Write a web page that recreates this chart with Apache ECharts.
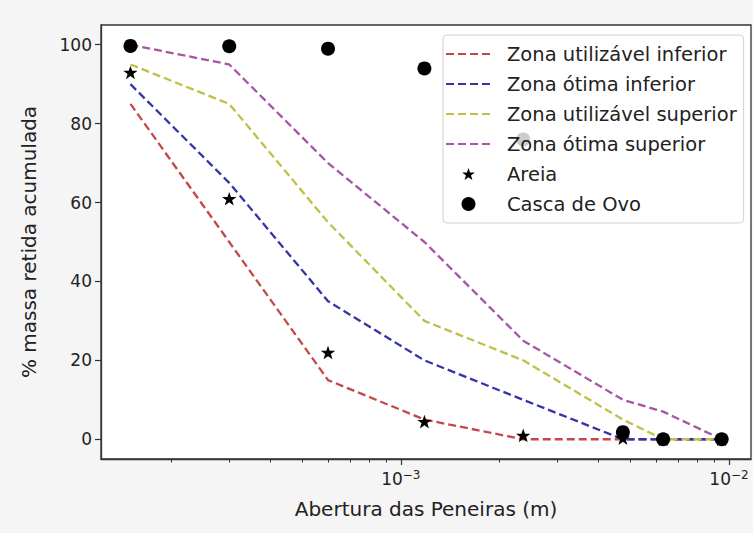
<!DOCTYPE html>
<html>
<head>
<meta charset="utf-8">
<script src="https://cdn.jsdelivr.net/npm/echarts@6/dist/echarts.min.js"></script>
<style>html,body{margin:0;padding:0;background:#f5f5f5}#c{width:753px;height:533px}</style>
</head>
<body>
<div id="c"></div>
<script>
// Sieve openings (m)
const aberturas = [1.5e-4, 3e-4, 6e-4, 1.18e-3, 2.36e-3, 4.75e-3, 6.3e-3, 9.5e-3];
const zonaUtilInf = [85, 50, 15, 5, 0, 0, 0, 0];
const zonaOtimaInf = [90, 65, 35, 20, 10, 0, 0, 0];
const zonaUtilSup = [95, 85, 55, 30, 20, 5, 0, 0];
const zonaOtimaSup = [100, 95, 70, 50, 25, 10, 7, 0];
const areia = [93, 61, 22, 4.5, 1, 0.3, 0, 0];
const cascaOvo = [99.7, 99.6, 99, 94, 76, 1.8, 0, 0];
const xMajorTicks = [1e-3, 1e-2];
const xMajorExp = {'0.001': '−3', '0.01': '−2'};
const xMinorTicks = [2e-4, 3e-4, 4e-4, 5e-4, 6e-4, 7e-4, 8e-4, 9e-4, 2e-3, 3e-3, 4e-3, 5e-3, 6e-3, 7e-3, 8e-3, 9e-3];
const yTicks = [0, 20, 40, 60, 80, 100];
const legendNames = ['Zona utilizável inferior', 'Zona ótima inferior', 'Zona utilizável superior', 'Zona ótima superior', 'Areia', 'Casca de Ovo'];

const pairs = (ys) => aberturas.map((x, i) => [x, ys[i]]);
const FONT = 'DejaVu Sans';
const starPath = 'path://M0,0 M100,100 M50,8 L61,40 L95,40 L68,60 L78,93 L50,73 L22,93 L32,60 L5,40 L39,40 Z';

const lineSeries = (name, ys, color) => ({
  name, type: 'line', data: pairs(ys), xAxisIndex: 0, yAxisIndex: 0,
  symbol: 'none', showSymbol: false, z: 2, clip: false,
  lineStyle: {color, width: 2.3, type: [8, 4], dashOffset: 0, cap: 'butt'},
  itemStyle: {color}
});

const chart = echarts.init(document.getElementById('c'), null, {renderer: 'svg'});
chart.setOption({
  backgroundColor: '#f5f5f5',
  animation: false,
  textStyle: {fontFamily: FONT},
  grid: {left: 101, right: 2, top: 25, bottom: 74, show: true, backgroundColor: '#ffffff', borderColor: '#333', borderWidth: 1.3},
  xAxis: [{
    type: 'log', logBase: 10, min: 1.22e-4, max: 0.01167,
    name: 'Abertura das Peneiras (m)', nameLocation: 'middle', nameGap: 40,
    nameTextStyle: {fontFamily: FONT, fontSize: 20, color: '#222'},
    axisLine: {show: true, onZero: false, lineStyle: {color: '#333', width: 1.3}},
    axisTick: {show: true, length: 6, customValues: xMajorTicks, lineStyle: {color: '#333', width: 1.2}},
    axisLabel: {customValues: xMajorTicks, fontFamily: FONT, fontSize: 17, color: '#222', margin: 10,
      formatter: (v) => '10{sup|' + (xMajorExp[String(v)] || '') + '}',
      rich: {sup: {fontFamily: FONT, fontSize: 12, color: '#222', verticalAlign: 'top', padding: [0, 0, 8, 0]}}},
    splitLine: {show: false}, minorTick: {show: false}
  }, {
    type: 'log', logBase: 10, min: 1.22e-4, max: 0.01167, position: 'bottom', gridIndex: 0,
    axisLine: {show: false, onZero: false},
    axisTick: {show: true, length: 3.5, customValues: xMinorTicks, lineStyle: {color: '#333', width: 1}},
    axisLabel: {show: false}, splitLine: {show: false}
  }],
  yAxis: {
    type: 'value', min: -5, max: 105,
    name: '% massa retida acumulada', nameLocation: 'middle', nameGap: 62, nameRotate: 90,
    nameTextStyle: {fontFamily: FONT, fontSize: 20, color: '#222'},
    axisLine: {show: true, onZero: false, lineStyle: {color: '#333', width: 1.3}},
    axisTick: {show: true, length: 6, customValues: yTicks, lineStyle: {color: '#333', width: 1.2}},
    axisLabel: {customValues: yTicks, fontFamily: FONT, fontSize: 17, color: '#222', margin: 9},
    splitLine: {show: false}
  },
  legend: {
    orient: 'vertical', left: 443, top: 35, z: 10,
    backgroundColor: 'rgba(255,255,255,0.8)', borderColor: '#d0d0d0', borderWidth: 1, borderRadius: 4,
    padding: [9, 7, 9, 2], itemGap: 10, itemWidth: 45, itemHeight: 14,
    textStyle: {fontFamily: FONT, fontSize: 19.5, color: '#222', lineHeight: 20, padding: [0, 0, 0, 11]},
    data: legendNames.map((n, i) => i < 4 ? {name: n, itemStyle: {opacity: 0}} : {name: n})
  },
  series: [
    lineSeries(legendNames[0], zonaUtilInf, '#c44848'),
    lineSeries(legendNames[1], zonaOtimaInf, '#3434a6'),
    lineSeries(legendNames[2], zonaUtilSup, '#c0c048'),
    lineSeries(legendNames[3], zonaOtimaSup, '#a655a6'),
    {name: legendNames[4], type: 'scatter', data: pairs(areia), symbol: starPath, symbolSize: 16, z: 3,
      itemStyle: {color: '#000', opacity: 1}},
    {name: legendNames[5], type: 'scatter', data: pairs(cascaOvo), symbol: 'circle', symbolSize: 14, z: 3,
      itemStyle: {color: '#000', opacity: 1}}
  ]
});
</script>
</body>
</html>
